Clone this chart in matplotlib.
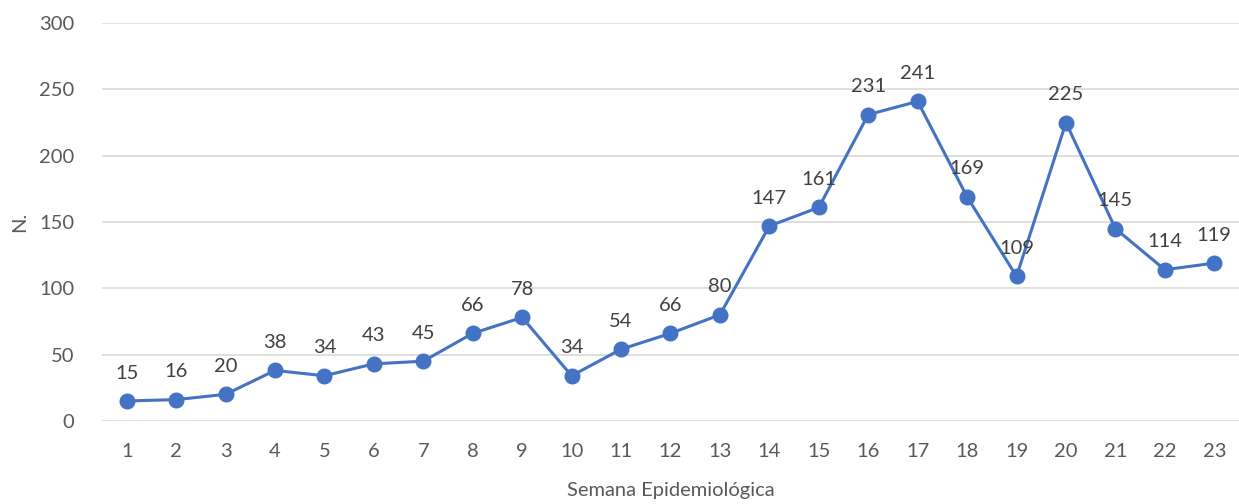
import numpy as np
import matplotlib.pyplot as plt

# data
semanas = list(range(1, 24))
casos = [15, 16, 20, 38, 34, 43, 45, 66, 78, 34, 54, 66, 80,
         147, 161, 231, 241, 169, 109, 225, 145, 114, 119]

azul = '#4472C4'
gris = '#595959'
plt.rcParams['font.family'] = ['Lato', 'DejaVu Sans']

fig = plt.figure(figsize=(12.39, 5.04), dpi=100)
ax = fig.add_axes([0.0823, 0.165, 0.9177, 0.789])

ax.plot(semanas, casos, color=azul, lw=2.2, marker='o', ms=10.5, zorder=3)
for x, y in zip(semanas, casos):
    ax.annotate(str(y), (x, y), xytext=(0, 14), textcoords='offset points',
                ha='center', va='bottom', fontsize=14.5, color='#404040')

ax.set_xlim(0.5, 23.5)
ax.set_ylim(0, 300)
ax.set_yticks(np.arange(0, 301, 50))
ax.set_xticks(semanas)
ax.grid(axis='y', color='#D9D9D9', lw=1.2)
ax.set_axisbelow(True)
for s in ax.spines.values():
    s.set_visible(False)
ax.tick_params(length=0, labelsize=14.5, labelcolor=gris)
ax.tick_params(axis='y', pad=20)
ax.tick_params(axis='x', pad=16)
ax.set_xlabel('Semana Epidemiológica', fontsize=14.5, color=gris, labelpad=16)
ax.set_ylabel('N.', fontsize=14.5, color=gris, labelpad=8)

fig.savefig('out.png')
